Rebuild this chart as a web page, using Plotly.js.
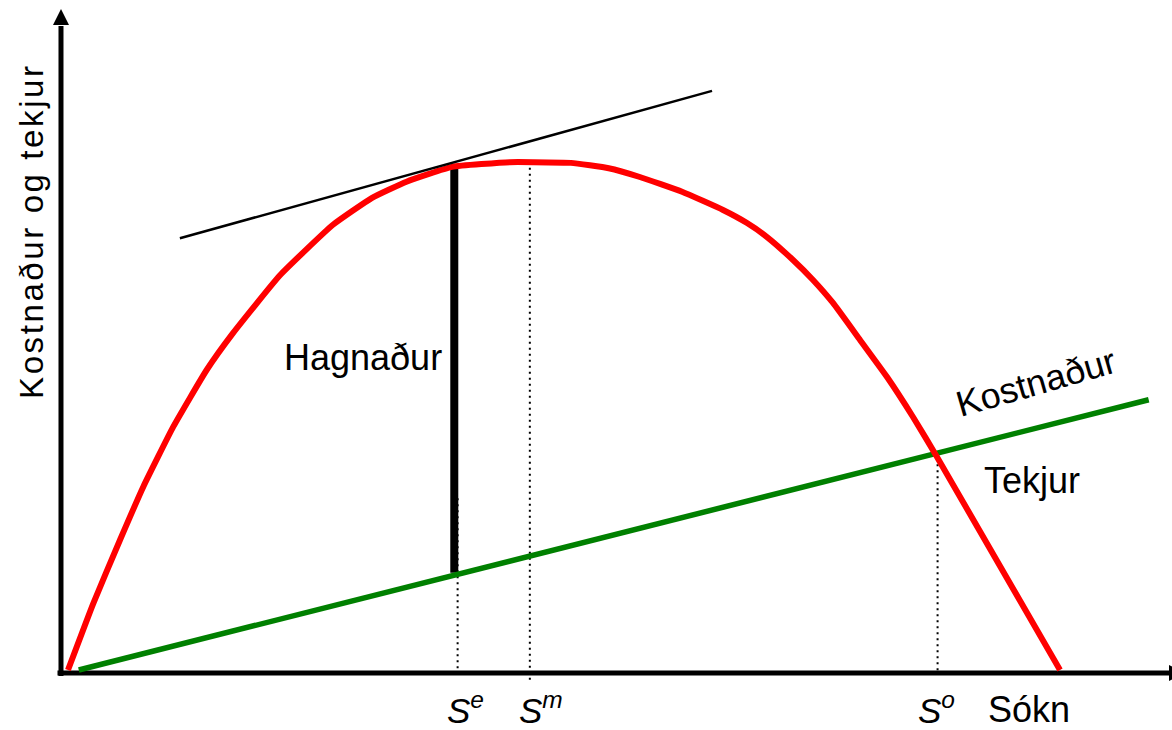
<!DOCTYPE html>
<html>
<head>
<meta charset="utf-8">
<script src="https://cdn.plot.ly/plotly-3.0.1.min.js"></script>
<style>
  html, body { margin: 0; padding: 0; background: #ffffff; }
  #chart { width: 1172px; height: 730px; }
</style>
</head>
<body>
<div id="chart"></div>
<script>
// ---- Data ----
// Red curve
const curveX = [0.063, 0.291, 0.531, 0.741, 1.011, 1.311, 1.548, 1.971, 2.448, 2.80, 3.11, 3.52, 4.04, 4.25, 4.59, 4.93, 5.21, 5.59, 5.959, 6.175, 6.355, 6.589, 6.769, 6.949, 7.192, 7.435, 7.669, 7.885, 8.992];
const curveY = [0.045, 1.036, 1.976, 2.768, 3.660, 4.502, 5.05, 5.91, 6.66, 7.06, 7.30, 7.52, 7.59, 7.59, 7.58, 7.50, 7.37, 7.15, 6.880, 6.686, 6.478, 6.137, 5.840, 5.498, 4.948, 4.398, 3.804, 3.210, 0.045];
// Green straight line
const lineX = [0.16, 9.79];
const lineY = [0.045, 4.06];
// Black tangent line
const tangentX = [1.07, 5.86];
const tangentY = [6.46, 8.65];
// Thick profit bar (Hagnaður)
const profitX = [3.54, 3.54];
const profitY = [1.49, 7.50];
// Dotted guide lines at S^e, S^m, S^o
const guideNames = ['e', 'm', 'o'];
const guideX = [3.57, 4.22, 7.89];
const guideBottom = [0.07, -0.10, 0.04];
const guideTop = [2.60, 7.59, 3.24];
// Axis extents (data units)
const axisXMax = 9.973;
const axisYMax = 9.614;

// ---- Traces ----
const FONT = 'Liberation Sans, Arial, sans-serif';
const traces = [];
guideX.forEach((gx, i) => {
  traces.push({
    type: 'scatter', mode: 'lines',
    x: [gx, gx], y: [guideBottom[i], guideTop[i]],
    line: { color: '#000000', width: 2, dash: '2px,4px' },
    hoverinfo: 'skip', showlegend: false
  });
});
traces.push({
  type: 'scatter', mode: 'lines', x: profitX, y: profitY,
  line: { color: '#000000', width: 8 }, hoverinfo: 'skip', showlegend: false
});
traces.push({
  type: 'scatter', mode: 'lines', x: lineX, y: lineY,
  line: { color: '#008000', width: 5.5 }, hoverinfo: 'skip', showlegend: false
});
traces.push({
  type: 'scatter', mode: 'lines', x: curveX, y: curveY,
  line: { color: '#ff0000', width: 6, shape: 'spline', smoothing: 0.4 },
  hoverinfo: 'skip', showlegend: false
});
traces.push({
  type: 'scatter', mode: 'lines', x: tangentX, y: tangentY,
  line: { color: '#000000', width: 2.5 }, hoverinfo: 'skip', showlegend: false
});

// ---- Axes drawn as arrows ----
const shapes = [
  { type: 'line', xref: 'x', yref: 'y', x0: 0, x1: 0, y0: -0.045, y1: axisYMax,
    line: { color: '#000000', width: 5 }, layer: 'below' },
  { type: 'line', xref: 'x', yref: 'y', x0: -0.0315, x1: axisXMax, y0: 0, y1: 0,
    line: { color: '#000000', width: 5 }, layer: 'below' },
  { type: 'path', xref: 'x', yref: 'y',
    path: 'M -0.072 9.629 L 0.072 9.629 L 0 9.866 Z',
    fillcolor: '#000000', line: { color: '#000000', width: 0 }, layer: 'below' },
  { type: 'path', xref: 'x', yref: 'y',
    path: 'M 9.973 -0.119 L 9.973 0.119 L 10.117 0 Z',
    fillcolor: '#000000', line: { color: '#000000', width: 0 }, layer: 'below' }
];

// ---- Labels ----
const labelFont = { family: FONT, size: 36, color: '#000000' };
const annotations = [
  { text: '<span style="letter-spacing:2.6px">Kostnaður og tekjur</span>',
    x: -0.261, y: 6.568, xref: 'x', yref: 'y', showarrow: false, textangle: -90,
    font: { family: FONT, size: 33, color: '#000000' }, xanchor: 'center', yanchor: 'middle' },
  { text: 'Hagnaður', x: 2.718, y: 4.688, xref: 'x', yref: 'y', showarrow: false,
    font: labelFont, xanchor: 'center', yanchor: 'middle', borderpad: 0 },
  { text: 'Kostnaður', x: 8.772, y: 4.317, xref: 'x', yref: 'y', showarrow: false,
    textangle: -16, font: labelFont, xanchor: 'center', yanchor: 'middle', borderpad: 0 },
  { text: 'Tekjur', x: 8.744, y: 2.860, xref: 'x', yref: 'y', showarrow: false,
    font: labelFont, xanchor: 'center', yanchor: 'middle', borderpad: 0 },
  { text: 'Sókn', x: 0.878, y: -0.002, xref: 'paper', yref: 'paper', showarrow: false,
    font: labelFont, xanchor: 'center', yanchor: 'bottom', borderpad: 0 }
];
const guideLabelX = [0.3972, 0.4620, 0.7991];
guideNames.forEach((n, i) => {
  annotations.push({
    text: '<i>S</i><sup><i>' + n + '</i></sup>',
    x: guideLabelX[i], y: -0.002, xref: 'paper', yref: 'paper', showarrow: false,
    font: { family: FONT, size: 35, color: '#000000' },
    xanchor: 'center', yanchor: 'bottom', borderpad: 0
  });
});

const layout = {
  width: 1172, height: 730,
  margin: { l: 0, r: 0, t: 0, b: 0, pad: 0 },
  paper_bgcolor: '#ffffff', plot_bgcolor: '#ffffff',
  showlegend: false,
  xaxis: { range: [-0.549, 10.0], showgrid: false, zeroline: false, showline: false,
           showticklabels: false, ticks: '', fixedrange: true },
  yaxis: { range: [-0.847, 10.0], showgrid: false, zeroline: false, showline: false,
           showticklabels: false, ticks: '', fixedrange: true },
  shapes: shapes,
  annotations: annotations,
  font: { family: FONT }
};

Plotly.newPlot('chart', traces, layout, { displayModeBar: false, staticPlot: true });
</script>
</body>
</html>
